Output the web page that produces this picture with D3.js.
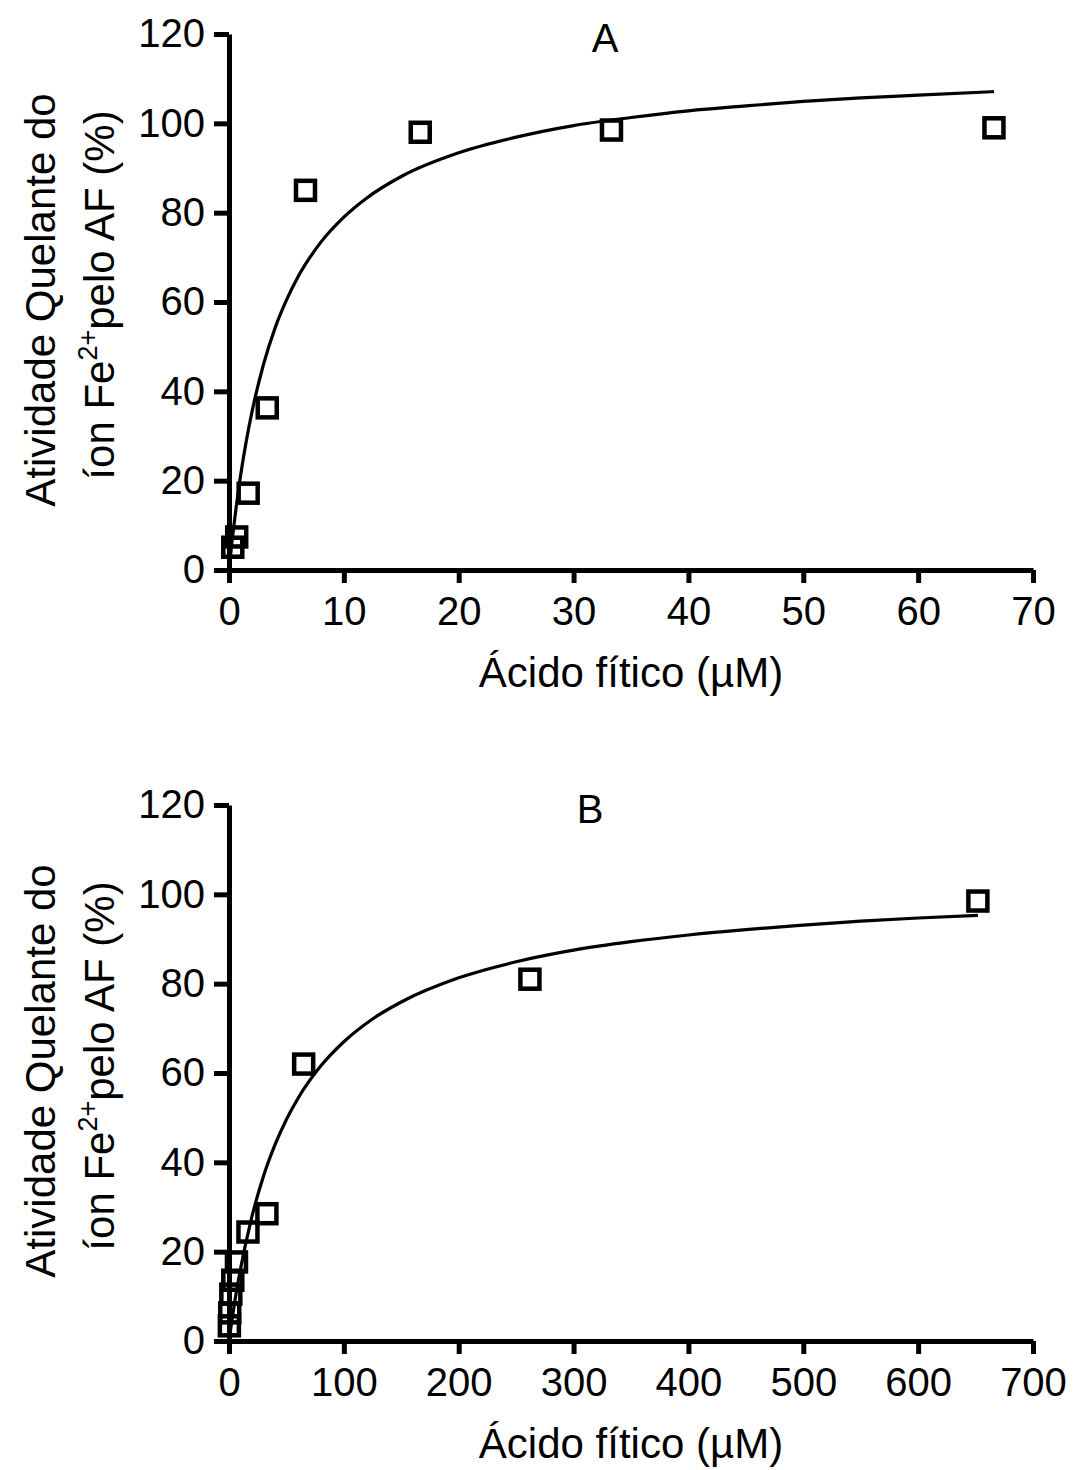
<!DOCTYPE html>
<html>
<head>
<meta charset="utf-8">
<script src="https://cdn.jsdelivr.net/npm/d3@7"></script>
<style>
  body { margin: 0; background: #fff; }
  text { font-family: "Liberation Sans", Arial, sans-serif; fill: #000; }
</style>
</head>
<body>
<svg id="chart" width="1074" height="1470"></svg>
<script>
// panel A: points
var xA = [66.6, 33.3, 16.65, 6.66, 3.33, 1.67, 0.67, 0.33];
var yA = [99, 98.5, 98, 85, 36.3, 17.2, 7.4, 5.1];
// panel A: fitted curve
var curveXA = [0, 0.25, 0.5, 1, 1.5, 2, 3, 4, 5, 6, 7, 8, 10, 12, 15, 20, 25, 30, 35, 40, 45, 50, 55, 60, 66.6];
var curveYA = [0, 6.1, 11.5, 21, 28.8, 35.4, 46, 54.1, 60.4, 65.6, 69.8, 73.4, 79, 83.3, 88.1, 93.4, 96.9, 99.5, 101.3, 102.8, 103.9, 104.9, 105.7, 106.3, 107.1];

// panel B: points
var xB = [652, 262, 65, 33, 16.5, 6.5, 3.3, 1.6, 0.65, 0.33];
var yB = [98.5, 81, 62, 28.5, 24.4, 17.7, 13.6, 10.5, 6.3, 3.4];
// panel B: fitted curve
var curveXB = [0, 2, 5, 10, 20, 30, 40, 50, 60, 80, 100, 125, 150, 200, 250, 300, 350, 400, 450, 500, 550, 600, 652];
var curveYB = [0, 3.7, 8.8, 16.1, 27.9, 36.9, 43.9, 49.6, 54.3, 61.6, 67, 72.1, 75.9, 81.3, 84.9, 87.5, 89.4, 90.9, 92.1, 93.1, 94, 94.7, 95.3];

var yTicks = [0, 20, 40, 60, 80, 100, 120];
var xTicksA = [0, 10, 20, 30, 40, 50, 60, 70];
var xTicksB = [0, 100, 200, 300, 400, 500, 600, 700];

var svg = d3.select("#chart");

function panel(opts) {
  var x = d3.scaleLinear().domain([0, opts.xMax]).range([229, 1033]);
  var y = d3.scaleLinear().domain([0, 120]).range([opts.bottom, opts.bottom - 536]);
  var g = svg.append("g");

  var xAxis = g.append("g")
    .attr("transform", "translate(0," + opts.bottom + ")")
    .call(d3.axisBottom(x).tickValues(opts.xTicks).tickSize(13).tickSizeOuter(0).tickPadding(14));
  var yAxis = g.append("g")
    .attr("transform", "translate(229,0)")
    .call(d3.axisLeft(y).tickValues(yTicks).tickSize(15).tickSizeOuter(0).tickPadding(9));

  [xAxis, yAxis].forEach(function(a) {
    a.select(".domain").attr("stroke", "#000").attr("stroke-width", 5);
    a.selectAll(".tick line").attr("stroke", "#000").attr("stroke-width", 5);
    a.selectAll(".tick text").attr("font-size", 40).attr("font-family", "Liberation Sans, Arial, sans-serif");
  });

  var line = d3.line()
    .x(function(d) { return x(d[0]); })
    .y(function(d) { return y(d[1]); })
    .curve(d3.curveMonotoneX);

  g.append("path")
    .datum(d3.zip(opts.cx, opts.cy))
    .attr("d", line)
    .attr("fill", "none")
    .attr("stroke", "#000")
    .attr("stroke-width", 3.2);

  var s = 19;
  g.selectAll("rect.pt")
    .data(d3.zip(opts.px, opts.py))
    .enter().append("rect")
      .attr("class", "pt")
      .attr("x", function(d) { return x(d[0]) - s / 2; })
      .attr("y", function(d) { return y(d[1]) - s / 2; })
      .attr("width", s)
      .attr("height", s)
      .attr("fill", "none")
      .attr("stroke", "#000")
      .attr("stroke-width", 4.5);

  g.append("text")
    .attr("x", opts.labelX)
    .attr("y", opts.bottom - 518)
    .attr("text-anchor", "middle")
    .attr("font-size", 40)
    .text(opts.label);

  g.append("text")
    .attr("x", 631)
    .attr("y", opts.bottom + 117)
    .attr("text-anchor", "middle")
    .attr("font-size", 42)
    .text("Ácido fítico (µM)");

  var cy = opts.bottom - 270;
  g.append("text")
    .attr("transform", "translate(55," + cy + ") rotate(-90)")
    .attr("text-anchor", "middle")
    .attr("font-size", 42)
    .text("Atividade Quelante do");

  var t2 = g.append("text")
    .attr("transform", "translate(114," + (cy - 5) + ") rotate(-90)")
    .attr("text-anchor", "middle")
    .attr("font-size", 42);
  t2.append("tspan").text("íon Fe");
  t2.append("tspan").attr("font-size", 27).attr("dy", -17).text("2+");
  t2.append("tspan").attr("dy", 17).text("pelo AF (%)");
}

panel({ xMax: 70, xTicks: xTicksA, bottom: 570, px: xA, py: yA, cx: curveXA, cy: curveYA, label: "A", labelX: 605 });
panel({ xMax: 700, xTicks: xTicksB, bottom: 1341, px: xB, py: yB, cx: curveXB, cy: curveYB, label: "B", labelX: 590 });
</script>
</body>
</html>
